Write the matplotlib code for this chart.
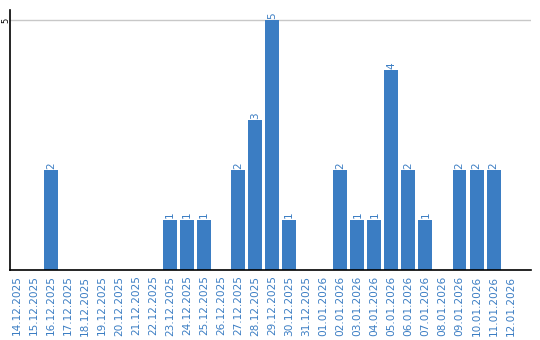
import matplotlib
matplotlib.use('Agg')
import matplotlib.pyplot as plt

dates = ['14.12.2025', '15.12.2025', '16.12.2025', '17.12.2025', '18.12.2025',
         '19.12.2025', '20.12.2025', '21.12.2025', '22.12.2025', '23.12.2025',
         '24.12.2025', '25.12.2025', '26.12.2025', '27.12.2025', '28.12.2025',
         '29.12.2025', '30.12.2025', '31.12.2025', '01.01.2026', '02.01.2026',
         '03.01.2026', '04.01.2026', '05.01.2026', '06.01.2026', '07.01.2026',
         '08.01.2026', '09.01.2026', '10.01.2026', '11.01.2026', '12.01.2026']
counts = [0, 0, 2, 0, 0, 0, 0, 0, 0, 1,
          1, 1, 0, 2, 3, 5, 1, 0, 0, 2,
          1, 1, 4, 2, 1, 0, 2, 2, 2, 0]
y_ticks = [5]

BLUE = '#3b7dc3'

fig = plt.figure(figsize=(5.4, 3.4), dpi=100)
ax = fig.add_axes([10 / 540, 70 / 340, 521 / 540, 260 / 340])

x = list(range(len(dates)))
ax.bar(x, counts, width=0.82, color=BLUE, zorder=2)
for xi, c in zip(x, counts):
    if c > 0:
        ax.text(xi, c + 0.03, str(c), rotation=90, ha='center', va='bottom',
                color=BLUE, fontsize=7.5)

ax.set_xlim(-0.41, 30.2)
ax.set_ylim(0, 5.2)
ax.set_yticks(y_ticks)
ax.set_yticklabels([str(t) for t in y_ticks], rotation=90, va='center',
                   ha='center', fontsize=6)
ax.yaxis.grid(True, color='#c8c8c8', linewidth=1, zorder=0)
ax.set_xticks(x)
ax.set_xticklabels(dates, rotation=90, color=BLUE, fontsize=7.6)
ax.tick_params(axis='x', length=0, pad=4)
ax.tick_params(axis='y', length=0, pad=3)
for side in ['top', 'right']:
    ax.spines[side].set_visible(False)
ax.spines['left'].set_linewidth(1.2)
ax.spines['bottom'].set_linewidth(1.2)

plt.savefig('out.png', dpi=100)
plt.close()
